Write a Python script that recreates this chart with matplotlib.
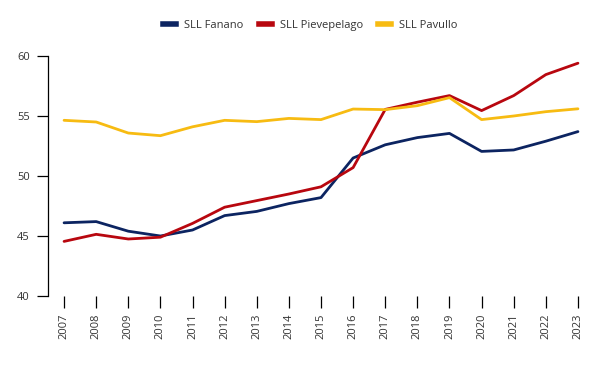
import matplotlib
matplotlib.use("Agg")
import matplotlib.pyplot as plt
from matplotlib.lines import Line2D

years = list(range(2007, 2024))
fanano = [46.1, 46.2, 45.4, 45.0, 45.5, 46.7, 47.05, 47.7, 48.2, 51.5, 52.6, 53.2, 53.55, 52.05, 52.17, 52.9, 53.7]
pievepelago = [44.55, 45.14, 44.75, 44.9, 46.05, 47.4, 47.95, 48.5, 49.1, 50.7, 55.55, 56.15, 56.7, 55.45, 56.7, 58.45, 59.4]
pavullo = [54.64, 54.5, 53.58, 53.36, 54.1, 54.64, 54.53, 54.8, 54.7, 55.58, 55.53, 55.86, 56.53, 54.7, 55.0, 55.36, 55.6]
series_names = ["SLL Fanano", "SLL Pievepelago", "SLL Pavullo"]
colors = ["#0c2461", "#b8070f", "#f7bb12"]
yticks = [40, 45, 50, 55, 60]

plt.rcParams['font.family'] = ['Open Sans', 'DejaVu Sans']
fig = plt.figure(figsize=(6, 3.71), dpi=100)
ax = fig.add_axes([48/600, 1-296/371, (594-48)/600, (296-56)/371])

for vals, c in zip([fanano, pievepelago, pavullo], colors):
    ax.plot(years, vals, color=c, lw=2.0, solid_joinstyle='round', solid_capstyle='round', zorder=3)

ax.set_xlim(2006.5, 2023.5)
ax.set_ylim(40, 60)
ax.set_yticks(yticks)
ax.set_yticklabels([str(v) for v in yticks], fontsize=8, color="#333333")
ax.set_xticks(years)
ax.set_xticklabels([str(y) for y in years], rotation=90, fontsize=8, color="#333333")
for s in ["top", "right", "bottom"]:
    ax.spines[s].set_visible(False)
ax.spines["left"].set_linewidth(0.9)
ax.tick_params(axis='y', length=8, width=0.9, pad=5)
ax.tick_params(axis='x', length=8.5, width=0.9, pad=4)

handles = [Line2D([0], [0], color=c, lw=4) for c in colors]
fig.legend(handles, series_names, loc='center', bbox_to_anchor=(0.517, 1-25.5/371), ncol=3,
           frameon=False, fontsize=8, handlelength=1.17, columnspacing=1.35, handletextpad=0.72,
           labelcolor="#333333")

fig.savefig("out.png", dpi=100)
